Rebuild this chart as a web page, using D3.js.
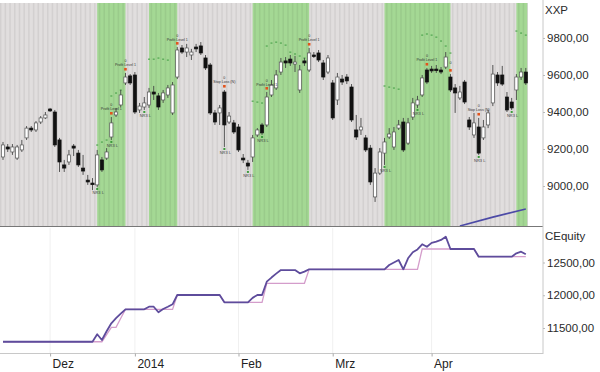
<!DOCTYPE html>
<html>
<head>
<meta charset="utf-8">
<script src="https://d3js.org/d3.v7.min.js"></script>
<style>
body { margin: 0; background: #fff; }
svg { display: block; font-family: "Liberation Sans", Arial, sans-serif; }
</style>
</head>
<body>
<svg id="chart" width="600" height="372"></svg>
<script>
// daily candles, Nov 18 2013 .. end of Apr 2014 (trading day index 0..111)
const opens = [9157,9211,9184,9151,9195,9260,9313,9303,9346,9368,
  9416,9400,9249,9114,9130,9216,9178,9097,9032,9016,
  9006,9141,9151,9265,9384,9438,9557,9595,9600,9411,
  9427,9438,9508,9487,9465,9492,9395,9589,9746,9724,
  9708,9751,9757,9692,9654,9395,9395,9508,9346,9341,
  9319,9151,9124,9157,9276,9330,9330,9492,9530,9616,
  9676,9686,9659,9519,9676,9627,9708,9719,9665,9616,
  9557,9465,9578,9589,9535,9303,9303,9260,9205,8941,
  9070,9178,9265,9211,9313,9346,9232,9373,9438,9492,
  9627,9632,9632,9627,9643,9589,9530,9476,9562,9357,
  9276,9319,9260,9330,9449,9600,9600,9481,9454,9519,
  9589,9616];
const highs = [9238,9227,9227,9222,9249,9324,9324,9351,9378,9400,
  9422,9411,9260,9141,9195,9227,9195,9168,9060,9043,
  9195,9157,9205,9373,9422,9519,9611,9605,9616,9449,
  9481,9530,9541,9503,9519,9546,9562,9751,9762,9768,
  9741,9768,9778,9708,9665,9411,9438,9519,9400,9357,
  9335,9173,9141,9276,9313,9341,9508,9573,9627,9692,
  9697,9708,9703,9654,9692,9746,9724,9735,9681,9708,
  9573,9611,9600,9605,9551,9384,9368,9276,9222,9097,
  9205,9260,9313,9319,9357,9368,9368,9476,9487,9600,
  9638,9649,9654,9643,9724,9605,9551,9541,9573,9373,
  9395,9368,9357,9411,9654,9616,9649,9508,9476,9605,
  9638,9638];
const lows = [9141,9184,9168,9141,9184,9249,9292,9292,9335,9362,
  9400,9211,9076,9076,9114,9162,9103,9060,9006,8978,
  8995,9076,9141,9249,9373,9427,9546,9546,9389,9395,
  9411,9422,9465,9411,9449,9476,9384,9578,9714,9697,
  9681,9724,9708,9627,9384,9330,9330,9211,9335,9281,
  9184,9124,9087,9130,9265,9276,9319,9481,9519,9600,
  9638,9649,9616,9503,9649,9616,9692,9670,9573,9605,
  9357,9438,9546,9551,9346,9249,9276,9184,9006,8914,
  9060,9114,9254,9195,9303,9184,9222,9357,9422,9481,
  9551,9611,9611,9605,9632,9508,9395,9465,9443,9303,
  9260,9168,9249,9313,9432,9541,9541,9400,9411,9465,
  9573,9546];
const closes = [9222,9200,9211,9211,9222,9313,9303,9341,9368,9384,
  9406,9222,9130,9097,9168,9205,9114,9081,9022,9011,
  9168,9087,9184,9341,9400,9492,9589,9557,9400,9432,
  9449,9508,9497,9427,9503,9530,9546,9735,9724,9746,
  9724,9741,9719,9638,9395,9346,9422,9330,9378,9292,
  9195,9141,9108,9260,9303,9287,9481,9546,9600,9670,
  9665,9665,9670,9627,9665,9719,9703,9681,9589,9692,
  9368,9589,9562,9568,9357,9265,9319,9195,9022,9070,
  9184,9238,9281,9292,9330,9195,9341,9449,9465,9584,
  9562,9622,9627,9616,9697,9519,9503,9508,9454,9319,
  9341,9178,9319,9395,9605,9557,9551,9411,9422,9589,
  9616,9557];

// equity (with open position) and closed equity
const equityOpen = [11290,11290,11290,11290,11290,11290,11290,11290,11290,11290,
  11290,11290,11290,11290,11290,11290,11290,11290,11290,11290,
  11404,11317,11450,11572,11650,11720,11785,11785,11785,11785,
  11785,11825,11825,11740,11790,11825,11862,12004,12004,12004,
  12004,12004,12004,12004,12004,12004,12004,11892,11892,11892,
  11892,11892,11892,11960,12004,12004,12207,12270,12330,12385,
  12385,12385,12385,12335,12360,12396,12396,12396,12396,12396,
  12396,12396,12396,12396,12396,12396,12396,12396,12396,12396,
  12396,12396,12462,12500,12538,12396,12564,12656,12700,12778,
  12741,12800,12818,12844,12894,12706,12706,12706,12706,12706,
  12706,12589,12589,12589,12589,12589,12589,12589,12589,12640,
  12665,12625];
const equityClosed = [11290,11290,11290,11290,11290,11290,11290,11290,11290,11290,
  11290,11290,11290,11290,11290,11290,11290,11290,11290,11290,
  11290,11290,11400,11510,11510,11650,11785,11785,11785,11785,
  11785,11785,11785,11785,11785,11785,11785,12004,12004,12004,
  12004,12004,12004,12004,12004,12004,12004,11892,11892,11892,
  11892,11892,11892,11892,11892,11892,12182,12182,12182,12182,
  12182,12182,12182,12182,12182,12396,12396,12396,12396,12396,
  12396,12396,12396,12396,12396,12396,12396,12396,12396,12396,
  12396,12396,12396,12396,12396,12396,12396,12396,12396,12706,
  12706,12706,12706,12706,12706,12706,12706,12706,12706,12706,
  12706,12589,12589,12589,12589,12589,12589,12589,12589,12589,
  12589,12589];

// trades in the market (green bands), as bar index ranges
const tradeStart = [20, 31, 53, 81, 109];
const tradeEnd   = [26, 37, 65, 95, 111.3];

// exit signals
const exitIdx  = [23, 26, 37, 47, 56, 65, 90, 95, 101];
const exitText = ["Profit Level 1", "Profit Level 1", "Profit Level 1", "Stop Loss (N)",
  "Profit Level 1", "Profit Level 1", "Profit Level 1", "", "Stop Loss (N)"];
// entry signals
const entryIdx = [20, 23, 30, 47, 52, 55, 81, 88, 101, 108];

// target dots
const targetIdx = [20,21,22, 23,24,25, 31,32,33,34,35, 53,54,55, 56,57,58,59,60, 61,62,63,64,
  81,82,83,84, 89,90,91,92,93,94,95, 109,110,111];
const targetVal = [9222,9238,9249, 9487,9503,9519, 9686,9686,9692,9686,9681, 9459,9454,9449,
  9757,9773,9778,9773,9762, 9724,9714,9703,9692, 9541,9535,9530,9524,
  9816,9822,9816,9805,9784,9757,9719, 9838,9827,9816];

// slow indicator line (blue)
const blueIdx = [97, 104, 111];
const blueVal = [8784, 8832, 8876];

const monthIdx = [10, 28, 50, 70, 91];
const monthLabels = ["Dez", "2014", "Feb", "Mrz", "Apr"];
const priceTicks = [9000, 9200, 9400, 9600, 9800];
const equityTicks = [11500, 12000, 12500];

const svg = d3.select("#chart");
const de = d3.formatLocale({decimal: ",", thousands: ".", grouping: [3], currency: ["", " €"]});
const fmt = de.format(".2f");

const n = opens.length;
const x = d3.scaleLinear().domain([0, n - 1]).range([3, 525.8]);
const yP = d3.scaleLinear().domain([8784, 9989]).range([226, 3]);
const yE = d3.scaleLinear().domain([11500, 12500]).range([328, 262.5]);

const step = x(1) - x(0);
const plotRight = x(n - 1) + 2.2;
const axisX = 543;

// ---------- top panel ----------
svg.append("clipPath").attr("id", "clipTop")
  .append("rect").attr("x", 0).attr("y", 3).attr("width", plotRight).attr("height", 223);

const topG = svg.append("g").attr("clip-path", "url(#clipTop)");
topG.append("rect").attr("x", 0).attr("y", 3).attr("width", plotRight).attr("height", 223)
  .attr("fill", "#e1dede");

topG.selectAll(".band").data(tradeStart).join("rect")
  .attr("x", (d, i) => x(d))
  .attr("y", 3)
  .attr("width", (d, i) => x(tradeEnd[i]) - x(d))
  .attr("height", 223)
  .attr("fill", "#a4d894");

// vertical day stripes
topG.selectAll(".stripe").data(d3.range(-1, n + 1)).join("line")
  .attr("x1", d => x(d) + step / 2).attr("x2", d => x(d) + step / 2)
  .attr("y1", 3).attr("y2", 226)
  .attr("stroke", "#000").attr("stroke-opacity", 0.06).attr("stroke-width", 1.6);

// blue line
topG.append("path")
  .datum(blueIdx)
  .attr("fill", "none").attr("stroke", "#4c4aa6").attr("stroke-width", 1.6)
  .attr("d", d3.line().x(d => x(d)).y((d, i) => yP(blueVal[i])));

// target dots
topG.selectAll(".tgt").data(targetIdx).join("rect")
  .attr("x", d => x(d) - 1).attr("y", (d, i) => yP(targetVal[i]) - 0.5)
  .attr("width", 2).attr("height", 1.2)
  .attr("fill", "#4fa54f");

// candles
const idx = d3.range(n);
const candles = topG.append("g");
candles.selectAll(".wick").data(idx).join("line")
  .attr("x1", i => x(i)).attr("x2", i => x(i))
  .attr("y1", i => yP(highs[i])).attr("y2", i => yP(lows[i]))
  .attr("stroke", "#444").attr("stroke-width", 0.9);
candles.selectAll(".body").data(idx).join("rect")
  .attr("x", i => x(i) - 1.6)
  .attr("width", 3.2)
  .attr("y", i => yP(Math.max(opens[i], closes[i])))
  .attr("height", i => Math.max(1.6, Math.abs(yP(opens[i]) - yP(closes[i]))))
  .attr("fill", i => closes[i] >= opens[i] ? "#fff" : "#111")
  .attr("stroke", i => closes[i] >= opens[i] ? "#555" : "#111")
  .attr("stroke-width", 0.7);

// exit markers
const ex = topG.append("g");
ex.selectAll("rect").data(exitIdx).join("rect")
  .attr("x", d => x(d) - 1.3).attr("y", d => yP(highs[d]) - 5)
  .attr("width", 2.6).attr("height", 2.6).attr("fill", "#e2531c");
ex.selectAll(".lbl").data(exitIdx).join("text")
  .attr("x", d => x(d)).attr("y", d => yP(highs[d]) - 6.5)
  .attr("text-anchor", "middle").attr("font-size", 3.6).attr("fill", "#333")
  .text((d, i) => exitText[i]);
ex.selectAll(".zero").data(exitIdx).join("text")
  .attr("x", d => x(d)).attr("y", d => yP(highs[d]) - 10.5)
  .attr("text-anchor", "middle").attr("font-size", 3.6).attr("fill", "#333")
  .text("0");

// entry markers
const en = topG.append("g");
en.selectAll("rect").data(entryIdx).join("rect")
  .attr("x", d => x(d) - 1).attr("y", d => yP(lows[d]) + 1)
  .attr("width", 2).attr("height", 2).attr("fill", "#3c9b3c");
en.selectAll("text").data(entryIdx).join("text")
  .attr("x", d => x(d) + 1).attr("y", d => yP(lows[d]) + 7.5)
  .attr("text-anchor", "middle").attr("font-size", 4).attr("fill", "#444")
  .text("NR3 L");

// top panel frame
svg.append("line").attr("x1", 0).attr("x2", axisX).attr("y1", 226.5).attr("y2", 226.5)
  .attr("stroke", "#777").attr("stroke-width", 1);
svg.append("line").attr("x1", axisX).attr("x2", axisX).attr("y1", 0).attr("y2", 354)
  .attr("stroke", "#c8c8c8").attr("stroke-width", 1);

const priceAxis = svg.append("g").attr("transform", `translate(${axisX},0)`)
  .call(d3.axisRight(yP).tickValues(priceTicks).tickFormat(fmt).tickSize(2).tickPadding(2));
priceAxis.select(".domain").remove();
priceAxis.selectAll("line").attr("stroke", "#bbb");
priceAxis.selectAll("text").attr("font-size", 11.5).attr("fill", "#2a2a2a");

svg.append("text").attr("x", 545).attr("y", 14).attr("font-size", 11.5)
  .attr("fill", "#2a2a2a").text("XXP");

// ---------- bottom panel ----------
const bot = svg.append("g");
bot.selectAll(".grid").data(monthIdx).join("line")
  .attr("x1", d => x(d)).attr("x2", d => x(d))
  .attr("y1", 228).attr("y2", 353)
  .attr("stroke", "#f0f0f0");
bot.append("line").attr("x1", 0).attr("x2", axisX).attr("y1", 353.5).attr("y2", 353.5)
  .attr("stroke", "#c8c8c8");

const eqLine = arr => d3.line().x((d, i) => x(i)).y(d => yE(d))(arr);
bot.append("path").attr("d", eqLine(equityClosed))
  .attr("fill", "none").attr("stroke", "#d49dcb").attr("stroke-width", 1.3);
bot.append("path").attr("d", eqLine(equityOpen))
  .attr("fill", "none").attr("stroke", "#5e4c9c").attr("stroke-width", 1.8)
  .attr("stroke-linejoin", "round");

const eqAxis = svg.append("g").attr("transform", `translate(${axisX},0)`)
  .call(d3.axisRight(yE).tickValues(equityTicks).tickFormat(fmt).tickSize(2).tickPadding(2));
eqAxis.select(".domain").remove();
eqAxis.selectAll("line").attr("stroke", "#bbb");
eqAxis.selectAll("text").attr("font-size", 11.5).attr("fill", "#2a2a2a");

svg.append("text").attr("x", 545).attr("y", 240).attr("font-size", 11.5)
  .attr("fill", "#2a2a2a").text("CEquity");

const monthAxis = svg.append("g").attr("transform", "translate(0,353.5)")
  .call(d3.axisBottom(x).tickValues(monthIdx)
    .tickFormat((d, i) => monthLabels[i]).tickSize(3).tickPadding(3));
monthAxis.select(".domain").remove();
monthAxis.selectAll("line").attr("stroke", "#aaa");
monthAxis.selectAll("text").attr("font-size", 12).attr("fill", "#222")
  .attr("text-anchor", "start").attr("dx", 2);
</script>
</body>
</html>
